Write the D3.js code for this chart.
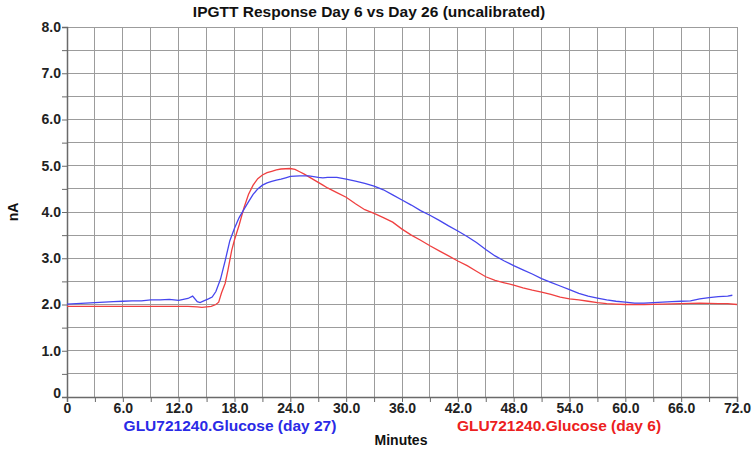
<!DOCTYPE html>
<html><head><meta charset="utf-8">
<script src="https://cdn.jsdelivr.net/npm/d3@7"></script>
<style>body{margin:0;background:#fff}svg{display:block}text{font-family:"Liberation Sans",Arial,sans-serif}</style>
</head><body>
<script>
const title = "IPGTT Response Day 6 vs Day 26 (uncalibrated)";
const xTickValues = [0,6,12,18,24,30,36,42,48,54,60,66,72];
const yTickValues = [0,1,2,3,4,5,6,7,8];
const seriesNames = ["GLU721240.Glucose (day 27)", "GLU721240.Glucose (day 6)"];
const blueT = [0,1,2,3,4,5,6,7,8,9,10,11,12,12.5,13,13.5,14,14.3,14.7,15.2,15.6,16,16.5,17,17.5,18,18.5,19,19.5,20,20.5,21,21.5,22,22.5,23,23.5,24,25,26,27,27.5,28,29,30,31,32,33,34,35,36,37,38,39,40,41,42,43,44,45,46,47,48,49,50,51,52,53,54,55,56,57,58,59,60,61,62,63,64,65,66,67,68,69,70,71,71.5];
const blueV = [2.01,2.02,2.03,2.04,2.05,2.06,2.07,2.08,2.08,2.10,2.10,2.11,2.09,2.11,2.13,2.18,2.06,2.04,2.08,2.12,2.16,2.28,2.55,2.95,3.38,3.65,3.88,4.05,4.22,4.38,4.50,4.58,4.63,4.66,4.69,4.71,4.74,4.77,4.78,4.78,4.75,4.74,4.75,4.75,4.71,4.67,4.62,4.56,4.48,4.37,4.26,4.15,4.03,3.93,3.82,3.70,3.59,3.47,3.34,3.19,3.05,2.94,2.84,2.75,2.66,2.56,2.48,2.40,2.32,2.24,2.18,2.14,2.10,2.07,2.05,2.03,2.03,2.04,2.05,2.06,2.07,2.08,2.12,2.15,2.17,2.18,2.20];
const redT = [0,2,4,6,8,10,12,13,14,14.5,15,15.5,16,16.3,16.6,17,17.3,17.7,18,18.5,19,19.5,20,20.5,21,21.5,22,22.5,23,24,24.5,25,25.5,26,26.5,27,27.5,28,29,30,31,32,33,34,35,36,37,38,39,40,41,42,43,44,45,46,47,48,49,50,51,52,53,54,55,56,57,58,59,60,62,64,66,68,70,71,72];
const redV = [1.96,1.96,1.96,1.96,1.96,1.96,1.96,1.96,1.95,1.94,1.95,1.96,2.00,2.05,2.25,2.46,2.75,3.17,3.40,3.72,4.08,4.38,4.58,4.72,4.80,4.85,4.88,4.91,4.93,4.94,4.92,4.87,4.82,4.76,4.70,4.64,4.58,4.52,4.42,4.32,4.18,4.05,3.97,3.88,3.78,3.63,3.50,3.39,3.27,3.16,3.05,2.94,2.84,2.72,2.60,2.52,2.47,2.42,2.36,2.31,2.27,2.22,2.16,2.12,2.10,2.07,2.04,2.02,2.01,2.00,2.00,2.01,2.02,2.03,2.02,2.02,2.00];

const W = 752, H = 450;
const m = {left:67, right:15, top:27, bottom:53};
const svg = d3.select("body").append("svg").attr("width",W).attr("height",H);
const x = d3.scaleLinear().domain([0,72]).range([m.left, W-m.right]);
const y = d3.scaleLinear().domain([0,8]).range([H-m.bottom, m.top]);

// grid
const g = svg.append("g");
g.selectAll("line.v").data(d3.range(3,73,3)).join("line")
  .attr("x1",d=>x(d)).attr("x2",d=>x(d)).attr("y1",y(0)).attr("y2",y(8))
  .attr("stroke","#9c9c9c").attr("stroke-width",1).attr("shape-rendering","crispEdges");
g.selectAll("line.h").data(d3.range(0.5,8.01,0.5)).join("line")
  .attr("y1",d=>y(d)).attr("y2",d=>y(d)).attr("x1",x(0)).attr("x2",x(72))
  .attr("stroke","#9c9c9c").attr("stroke-width",1).attr("shape-rendering","crispEdges");

// axes
const xAxis = d3.axisBottom(x).tickValues(d3.range(0,73,3)).tickSize(5)
  .tickFormat(d => xTickValues.includes(d) ? (d===0?"0":d.toFixed(1)) : "");
const yAxis = d3.axisLeft(y).tickValues(d3.range(0,8.01,0.5)).tickSize(5)
  .tickFormat(d => yTickValues.includes(d) ? (d===0?"0":d.toFixed(1)) : "");
const xa = svg.append("g").attr("transform",`translate(0,${y(0)})`).call(xAxis);
const ya = svg.append("g").attr("transform",`translate(${x(0)},0)`).call(yAxis);
[xa,ya].forEach(a=>{
  a.select(".domain").attr("stroke","#6a6a6a").attr("stroke-width",1.5);
  a.selectAll(".tick line").attr("stroke","#6a6a6a");
  a.selectAll("text").attr("fill","#222").style("font-size","14px").style("font-weight","bold");
});
xa.selectAll(".tick text").attr("dy","0.85em").attr("y",4);
ya.selectAll(".tick text").attr("x",-6);
ya.selectAll(".tick").filter(d=>d===0).select("text").attr("dy","0.05em");

// lines
const line = d3.line().x(d=>x(d[0])).y(d=>y(d[1]));
svg.append("path").datum(redT.map((t,i)=>[t,redV[i]])).attr("d",line)
  .attr("fill","none").attr("stroke","#f04040").attr("stroke-width",1.3);
svg.append("path").datum(blueT.map((t,i)=>[t,blueV[i]])).attr("d",line)
  .attr("fill","none").attr("stroke","#4646ee").attr("stroke-width",1.3);

// title
svg.append("text").attr("x",369).attr("y",17).attr("text-anchor","middle")
  .style("font-size","15.5px").style("font-weight","bold").attr("fill","#111").text(title);
// y label
svg.append("text").attr("transform","translate(18,212) rotate(-90)").attr("text-anchor","middle")
  .style("font-size","14px").style("font-weight","bold").attr("fill","#111").text("nA");
// legend
svg.append("text").attr("x",230).attr("y",431).attr("text-anchor","middle")
  .style("font-size","15.5px").style("font-weight","bold").attr("fill","#2a2ae6").text(seriesNames[0]);
svg.append("text").attr("x",559).attr("y",431).attr("text-anchor","middle")
  .style("font-size","15.5px").style("font-weight","bold").attr("fill","#ec2020").text(seriesNames[1]);
svg.append("text").attr("x",401).attr("y",445).attr("text-anchor","middle")
  .style("font-size","14px").style("font-weight","bold").attr("fill","#111").text("Minutes");
</script>
</body></html>
